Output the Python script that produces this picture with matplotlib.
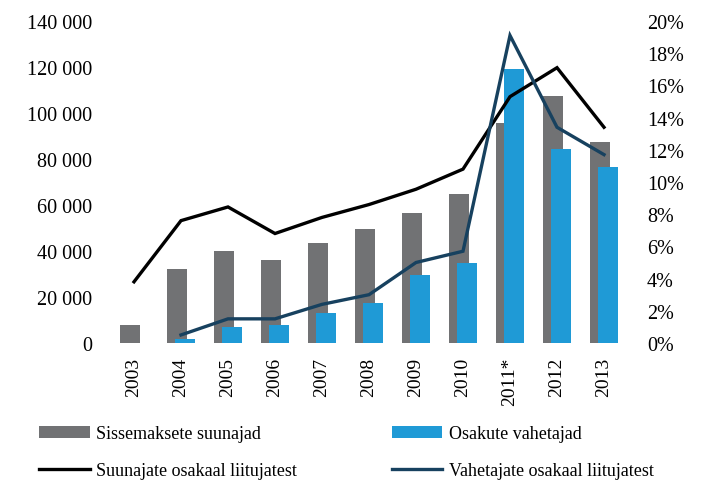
import matplotlib
matplotlib.use("Agg")
import matplotlib.pyplot as plt
from matplotlib.ticker import FuncFormatter, MultipleLocator
import numpy as np

years = ["2003", "2004", "2005", "2006", "2007", "2008", "2009", "2010", "2011*", "2012", "2013"]
suunajad = [8000, 32000, 40000, 36000, 43500, 49500, 56500, 65000, 95500, 107500, 87500]
vahetajad = [0, 1800, 7000, 7800, 13000, 17500, 29500, 34800, 119000, 84500, 76500]
suunajate_osakaal = [3.8, 7.6, 8.45, 6.8, 7.8, 8.6, 9.55, 10.8, 15.3, 17.1, 13.4]
vahetajate_osakaal = [None, 0.5, 1.5, 1.5, 2.4, 3.0, 5.0, 5.7, 19.1, 13.4, 11.7]

GRAY = "#717274"
BLUE = "#1F9AD6"
NAVY = "#17415F"

plt.rcParams['font.family'] = ['Liberation Serif', 'DejaVu Serif']

fig = plt.figure(figsize=(7.05, 4.81), dpi=100)
ax = fig.add_axes([110.5/705, 1-344/481, 517/705, 322/481])
ax2 = ax.twinx()

x = np.arange(len(years))
w = 0.425
off = 0.085
ax.bar(x - off, suunajad, width=w, color=GRAY, label="Sissemaksete suunajad", zorder=2)
ax.bar(x + off, vahetajad, width=w, color=BLUE, label="Osakute vahetajad", zorder=3)

s1 = np.array(suunajate_osakaal, dtype=float) / 100
s2 = np.array([np.nan if v is None else v for v in vahetajate_osakaal], dtype=float) / 100
ax2.plot(x, s1, color="black", lw=2.4, label="Suunajate osakaal liitujatest", solid_joinstyle="miter")
ax2.plot(x, s2, color=NAVY, lw=2.4, label="Vahetajate osakaal liitujatest", solid_joinstyle="miter")

ax.set_xlim(-0.5, len(years) - 0.5)
ax.set_ylim(0, 140000)
ax2.set_ylim(0, 0.20)
ax.yaxis.set_major_locator(MultipleLocator(20000))
ax2.yaxis.set_major_locator(MultipleLocator(0.02))
ax.yaxis.set_major_formatter(FuncFormatter(lambda v, p: f"{int(v):,}".replace(",", " ")))
ax2.yaxis.set_major_formatter(FuncFormatter(lambda v, p: f"{round(v*100)}%"))

ax.set_xticks(x)
ax.set_xticklabels(years, rotation=90, fontsize=14)
for a in (ax, ax2):
    for sp in a.spines.values():
        sp.set_visible(False)
    a.tick_params(length=0)
ax.tick_params(axis='y', labelsize=14.5, pad=13)
ax2.tick_params(axis='y', labelsize=14.5, pad=14)
ax.tick_params(axis='x', pad=10)

h1, l1 = ax.get_legend_handles_labels()
h2, l2 = ax2.get_legend_handles_labels()
handles = [h1[0], h2[0], h1[1], h2[1]]
labels = [l1[0], l2[0], l1[1], l2[1]]
fig.legend(handles, labels, ncol=2, loc="upper left", bbox_to_anchor=(23/705, 1-410/481),
           frameon=False, fontsize=13, handlelength=2.8, handletextpad=0.35,
           columnspacing=5.25, labelspacing=1.1)

fig.savefig("out.png", dpi=100)
